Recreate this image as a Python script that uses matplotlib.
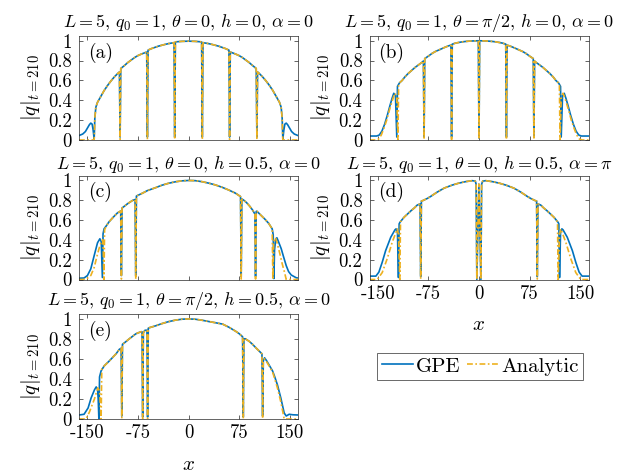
import numpy as np
import matplotlib
matplotlib.use("Agg")
import matplotlib.pyplot as plt

plt.rcParams['font.family'] = 'serif'
plt.rcParams['font.serif'] = ['cmr10', 'DejaVu Serif']
plt.rcParams['mathtext.fontset'] = 'cm'
plt.rcParams['axes.unicode_minus'] = False

# ---------------- data (x, |q|) ----------------
a_gpe = np.array([
    [-162.5, 0.045], [-157, 0.06], [-153, 0.085], [-150, 0.12], [-147, 0.155], [-145, 0.17],
    [-143, 0.16], [-141.5, 0.1], [-140, 0.01], [-139, 0.22], [-137.5, 0.33], [-135, 0.38],
    [-130, 0.44], [-125, 0.5], [-120, 0.55], [-115, 0.595], [-110, 0.635], [-105, 0.67],
    [-102.5, 0.685], [-101.5, 0.03], [-100.5, 0.72], [-95, 0.75], [-90, 0.78], [-85, 0.805],
    [-80, 0.83], [-75, 0.85], [-70, 0.865], [-65, 0.878], [-62, 0.885], [-61, 0.03], [-60, 0.905],
    [-55, 0.92], [-50, 0.932], [-45, 0.944], [-40, 0.953], [-35, 0.962], [-30, 0.97], [-25, 0.976],
    [-21.5, 0.98], [-20.5, 0.03], [-19.5, 0.988], [-10, 0.993], [0, 0.995], [10, 0.993],
    [19.5, 0.988], [20.5, 0.03], [21.5, 0.98], [25, 0.976], [30, 0.97], [35, 0.962], [40, 0.953],
    [45, 0.944], [50, 0.932], [55, 0.92], [60, 0.905], [61, 0.03], [62, 0.885], [65, 0.878],
    [70, 0.865], [75, 0.85], [80, 0.83], [85, 0.805], [90, 0.78], [95, 0.75], [100.5, 0.72],
    [101.5, 0.03], [102.5, 0.685], [105, 0.67], [110, 0.635], [115, 0.595], [120, 0.55],
    [125, 0.5], [130, 0.44], [135, 0.38], [137.5, 0.33], [139, 0.22], [140, 0.01], [141.5, 0.1],
    [143, 0.16], [145, 0.17], [147, 0.155], [150, 0.12], [153, 0.085], [157, 0.06], [162.5, 0.045]])
a_ana = np.array([
    [-162.5, 0.0], [-140, 0.0], [-139, 0.22], [-137.5, 0.33], [-135, 0.38],
    [-130, 0.44], [-125, 0.5], [-120, 0.55], [-115, 0.595], [-110, 0.635], [-105, 0.67],
    [-102.5, 0.685], [-101.5, 0.005], [-100.5, 0.72], [-95, 0.75], [-90, 0.78], [-85, 0.805],
    [-80, 0.83], [-75, 0.85], [-70, 0.865], [-65, 0.878], [-62, 0.885], [-61, 0.005], [-60, 0.905],
    [-55, 0.92], [-50, 0.932], [-45, 0.944], [-40, 0.953], [-35, 0.962], [-30, 0.97], [-25, 0.976],
    [-21.5, 0.98], [-20.5, 0.005], [-19.5, 0.988], [-10, 0.993], [0, 0.995], [10, 0.993],
    [19.5, 0.988], [20.5, 0.005], [21.5, 0.98], [25, 0.976], [30, 0.97], [35, 0.962], [40, 0.953],
    [45, 0.944], [50, 0.932], [55, 0.92], [60, 0.905], [61, 0.005], [62, 0.885], [65, 0.878],
    [70, 0.865], [75, 0.85], [80, 0.83], [85, 0.805], [90, 0.78], [95, 0.75], [100.5, 0.72],
    [101.5, 0.005], [102.5, 0.685], [105, 0.67], [110, 0.635], [115, 0.595], [120, 0.55],
    [125, 0.5], [130, 0.44], [135, 0.38], [137.5, 0.33], [139, 0.22], [140, 0.0], [162.5, 0.0]])

b_gpe = np.array([
    [-162.5, 0.04], [-152, 0.04], [-148, 0.05], [-144, 0.09], [-140, 0.16], [-136, 0.25],
    [-132, 0.35], [-129, 0.42], [-126.5, 0.47], [-124, 0.45], [-122, 0.03], [-121, 0.54],
    [-118, 0.575], [-114, 0.6], [-110, 0.635], [-105, 0.67], [-100, 0.7], [-95, 0.73],
    [-90, 0.755], [-85, 0.78], [-82.5, 0.795], [-81.5, 0.03], [-80.5, 0.82], [-75, 0.845],
    [-70, 0.87], [-65, 0.89], [-60, 0.905], [-55, 0.92], [-50, 0.935], [-45, 0.948],
    [-41.7, 0.955], [-40.7, 0.03], [-39.7, 0.965], [-35, 0.975], [-30, 0.982], [-25, 0.988],
    [-20, 0.992], [-15, 0.995], [-10, 0.997], [-1, 0.999], [0, 0.02], [1, 0.999], [10, 0.997],
    [15, 0.995], [20, 0.992], [25, 0.988], [30, 0.982], [35, 0.975], [39.7, 0.965], [40.7, 0.03],
    [41.7, 0.955], [45, 0.948], [50, 0.935], [55, 0.92], [60, 0.905], [65, 0.89], [70, 0.87],
    [75, 0.845], [80.5, 0.82], [81.5, 0.03], [82.5, 0.795], [85, 0.78], [90, 0.755], [95, 0.73],
    [100, 0.7], [105, 0.67], [110, 0.635], [114, 0.6], [118, 0.575], [121, 0.54], [122, 0.03],
    [124, 0.45], [126.5, 0.47], [129, 0.42], [132, 0.35], [136, 0.25], [140, 0.16], [144, 0.09],
    [148, 0.05], [152, 0.04], [162.5, 0.04]])
b_ana = np.array([
    [-162.5, 0.0], [-153, 0.0], [-149, 0.01], [-145, 0.05], [-141, 0.12], [-137, 0.2],
    [-133, 0.3], [-129, 0.39], [-126, 0.45], [-124.5, 0.47], [-122, 0.42], [-120.3, 0.0],
    [-119.3, 0.55], [-118, 0.575], [-114, 0.6], [-110, 0.635], [-105, 0.67], [-100, 0.7],
    [-95, 0.73], [-90, 0.755], [-85, 0.78], [-82.5, 0.795], [-81.5, 0.005], [-80.5, 0.82],
    [-75, 0.845], [-70, 0.87], [-65, 0.89], [-60, 0.905], [-55, 0.92], [-50, 0.935], [-45, 0.948],
    [-41.7, 0.955], [-40.7, 0.005], [-39.7, 0.965], [-35, 0.975], [-30, 0.982], [-25, 0.988],
    [-20, 0.992], [-15, 0.995], [-10, 0.997], [-1, 0.999], [0, 0.005], [1, 0.999], [10, 0.997],
    [15, 0.995], [20, 0.992], [25, 0.988], [30, 0.982], [35, 0.975], [39.7, 0.965], [40.7, 0.005],
    [41.7, 0.955], [45, 0.948], [50, 0.935], [55, 0.92], [60, 0.905], [65, 0.89], [70, 0.87],
    [75, 0.845], [80.5, 0.82], [81.5, 0.005], [82.5, 0.795], [85, 0.78], [90, 0.755], [95, 0.73],
    [100, 0.7], [105, 0.67], [110, 0.635], [114, 0.6], [118, 0.575], [119.3, 0.55], [120.3, 0.0],
    [122, 0.42], [124.5, 0.47], [126, 0.45], [129, 0.39], [133, 0.3], [137, 0.2], [141, 0.12],
    [145, 0.05], [149, 0.01], [153, 0.0], [162.5, 0.0]])

c_gpe = np.array([
    [-162.5, 0.013], [-155, 0.015], [-150, 0.04], [-145, 0.107], [-140, 0.24], [-135, 0.37],
    [-131.5, 0.41], [-129.5, 0.38], [-127.8, 0.02], [-126.8, 0.46], [-125.3, 0.51], [-122, 0.54],
    [-118, 0.58], [-112, 0.625], [-105.5, 0.67], [-100.6, 0.69], [-99.6, 0.04], [-98.6, 0.72],
    [-96.6, 0.73], [-90, 0.765], [-83.2, 0.795], [-79.3, 0.805], [-78.3, 0.04], [-77.3, 0.84],
    [-75.8, 0.845], [-68, 0.87], [-61, 0.895], [-48.6, 0.925], [-40, 0.948], [-30, 0.968],
    [-20, 0.983], [-10, 0.993], [0, 0.997], [10, 0.995], [20, 0.985], [30, 0.97], [40, 0.952],
    [50, 0.928], [60, 0.9], [70, 0.868], [77.2, 0.835], [78.2, 0.03], [79.2, 0.81], [81.7, 0.8],
    [86, 0.775], [90.6, 0.74], [95, 0.7], [98.5, 0.66], [99.5, 0.03], [100.5, 0.685],
    [101.5, 0.687], [107, 0.65], [113, 0.61], [119, 0.565], [124.2, 0.51], [125.7, 0.45],
    [126.7, 0.01], [127.7, 0.3], [129.5, 0.41], [131.2, 0.42], [133, 0.39], [137.6, 0.31],
    [141, 0.23], [145, 0.14], [148.5, 0.08], [152.5, 0.045], [160, 0.017], [162.5, 0.015]])
c_ana = np.array([
    [-162.5, 0.0], [-152.5, 0.0], [-145, 0.04], [-140, 0.12], [-136, 0.23], [-132.8, 0.31],
    [-129.5, 0.38], [-127.5, 0.4], [-126.5, 0.3], [-125.5, 0.0], [-124.5, 0.5], [-122, 0.54],
    [-118, 0.58], [-112, 0.625], [-105.5, 0.67], [-100.6, 0.69], [-99.6, 0.005], [-98.6, 0.72],
    [-96.6, 0.73], [-90, 0.765], [-83.2, 0.795], [-79.3, 0.805], [-78.3, 0.005], [-77.3, 0.84],
    [-75.8, 0.845], [-68, 0.87], [-61, 0.895], [-48.6, 0.925], [-40, 0.948], [-30, 0.968],
    [-20, 0.983], [-10, 0.993], [0, 0.997], [10, 0.995], [20, 0.985], [30, 0.97], [40, 0.952],
    [50, 0.928], [60, 0.9], [70, 0.868], [77.2, 0.835], [78.2, 0.005], [79.2, 0.81], [81.7, 0.8],
    [86, 0.775], [90.6, 0.74], [95, 0.7], [98.5, 0.66], [99.5, 0.005], [100.5, 0.685],
    [101.5, 0.687], [107, 0.65], [113, 0.61], [119, 0.565], [124.2, 0.51], [125.2, 0.0],
    [126.5, 0.38], [128, 0.41], [129.2, 0.42], [131, 0.38], [135.2, 0.27], [139, 0.16],
    [142.6, 0.07], [145, 0.0], [162.5, 0.0]])

d_gpe = np.array([
    [-162.5, 0.034], [-153, 0.034], [-148.6, 0.074], [-143.6, 0.174], [-138.6, 0.29],
    [-131, 0.425], [-124.7, 0.5], [-123, 0.51], [-121, 0.47], [-119.5, 0.02], [-118.5, 0.56],
    [-117.3, 0.576], [-111.3, 0.626], [-106, 0.66], [-101.3, 0.69], [-96, 0.72], [-91.5, 0.75],
    [-87.5, 0.76], [-86.5, 0.03], [-85.5, 0.79], [-83.5, 0.794], [-77, 0.815], [-71.5, 0.837],
    [-62, 0.88], [-51.7, 0.92], [-40, 0.95], [-30, 0.97], [-20, 0.985], [-10, 0.995],
    [-5.5, 0.99], [-4.3, 0.96], [-3.2, 0.0], [-0.2, 0.96], [2.8, 0.0], [3.9, 0.96], [5.5, 0.99],
    [10, 0.995], [20, 0.985], [30, 0.97], [40, 0.95], [51.7, 0.92], [62, 0.88], [71.5, 0.837],
    [77, 0.815], [83.5, 0.794], [85.5, 0.79], [86.5, 0.03], [87.5, 0.76], [91.5, 0.75],
    [96, 0.72], [101.3, 0.69], [106, 0.66], [111.3, 0.626], [117.3, 0.576], [118.5, 0.56],
    [119.5, 0.02], [121, 0.47], [123, 0.51], [124.7, 0.5], [131, 0.425], [138.6, 0.29],
    [143.6, 0.174], [148.6, 0.074], [153, 0.034], [162.5, 0.034]])
d_ana = np.array([
    [-162.5, 0.0], [-151, 0.0], [-143.6, 0.07], [-136.2, 0.21], [-128.8, 0.375],
    [-121.3, 0.51], [-119.5, 0.45], [-117.5, 0.0], [-116.5, 0.58], [-111.3, 0.626],
    [-106, 0.66], [-101.3, 0.69], [-96, 0.72], [-91.5, 0.75],
    [-87.5, 0.76], [-86.5, 0.005], [-85.5, 0.79], [-83.5, 0.794], [-77, 0.815], [-71.5, 0.837],
    [-62, 0.88], [-51.7, 0.92], [-40, 0.95], [-30, 0.97], [-20, 0.985], [-10, 0.995],
    [-5.5, 0.99], [-4.3, 0.96], [-3.2, 0.0], [-0.2, 0.96], [2.8, 0.0], [3.9, 0.96], [5.5, 0.99],
    [10, 0.995], [20, 0.985], [30, 0.97], [40, 0.95], [51.7, 0.92], [62, 0.88], [71.5, 0.837],
    [77, 0.815], [83.5, 0.794], [85.5, 0.79], [86.5, 0.005], [87.5, 0.76], [91.5, 0.75],
    [96, 0.72], [101.3, 0.69], [106, 0.66], [111.3, 0.626], [116.5, 0.58], [117.5, 0.0],
    [119.5, 0.45], [121.3, 0.51], [128.8, 0.375], [136.2, 0.21], [143.6, 0.07], [151, 0.0],
    [162.5, 0.0]])

e_gpe = np.array([
    [-162.5, 0.04], [-155, 0.047], [-149, 0.11], [-144.5, 0.21], [-139.6, 0.29], [-137, 0.32],
    [-135, 0.3], [-134, 0.2], [-133, 0.0], [-132, 0.42], [-129.7, 0.48], [-125, 0.53],
    [-117.4, 0.58], [-107.5, 0.65], [-102.6, 0.695], [-100, 0.705], [-99, 0.03], [-98, 0.745],
    [-95, 0.76], [-87.8, 0.8], [-78, 0.85], [-70.6, 0.87], [-69, 0.87], [-68, 0.02],
    [-67, 0.86], [-64.6, 0.885], [-61.7, 0.885], [-60.7, 0.02], [-59.7, 0.905], [-58.3, 0.91],
    [-48.4, 0.93], [-40, 0.95], [-30, 0.97], [-20, 0.985], [-10, 0.995], [0, 0.998],
    [10, 0.995], [20, 0.985], [30, 0.972], [40, 0.96], [50.7, 0.946], [60, 0.915], [70, 0.875],
    [75.4, 0.85], [80.3, 0.82], [81.3, 0.02], [82.3, 0.8], [84.3, 0.8], [90, 0.775],
    [95, 0.745], [100, 0.71], [106, 0.67], [109, 0.65], [110, 0.03], [111, 0.58], [112.9, 0.61],
    [116, 0.58], [124.7, 0.48], [128, 0.42], [132, 0.34], [137, 0.21], [142, 0.06], [145, 0.03],
    [149.4, 0.047], [155, 0.042], [162.5, 0.04]])
e_ana = np.array([
    [-162.5, 0.0], [-152, 0.0], [-147, 0.07], [-139.6, 0.2], [-134.6, 0.31], [-132, 0.28],
    [-129.7, 0.0], [-128.7, 0.5], [-125, 0.53],
    [-117.4, 0.58], [-107.5, 0.65], [-102.6, 0.695], [-100, 0.705], [-99, 0.005], [-98, 0.745],
    [-95, 0.76], [-87.8, 0.8], [-78, 0.85], [-70.6, 0.87], [-69, 0.87], [-68, 0.005],
    [-67, 0.86], [-64.6, 0.885], [-61.7, 0.885], [-60.7, 0.005], [-59.7, 0.905], [-58.3, 0.91],
    [-48.4, 0.93], [-40, 0.95], [-30, 0.97], [-20, 0.985], [-10, 0.995], [0, 0.998],
    [10, 0.995], [20, 0.985], [30, 0.972], [40, 0.96], [50.7, 0.946], [60, 0.915], [70, 0.875],
    [75.4, 0.85], [80.3, 0.82], [81.3, 0.005], [82.3, 0.8], [84.3, 0.8], [90, 0.775],
    [95, 0.745], [100, 0.71], [106, 0.67], [109, 0.65], [110, 0.005], [111, 0.58], [113, 0.6],
    [116, 0.57], [124.7, 0.47], [128, 0.4], [132, 0.31], [137, 0.17], [140, 0.07], [142, 0.0],
    [162.5, 0.0]])

titles = [r'$L=5$, $q_0=1$, $\theta=0$, $h=0$, $\alpha=0$',
          r'$L=5$, $q_0=1$, $\theta=\pi/2$, $h=0$, $\alpha=0$',
          r'$L=5$, $q_0=1$, $\theta=0$, $h=0.5$, $\alpha=0$',
          r'$L=5$, $q_0=1$, $\theta=0$, $h=0.5$, $\alpha=\pi$',
          r'$L=5$, $q_0=1$, $\theta=\pi/2$, $h=0.5$, $\alpha=0$']
panel_labels = ['(a)', '(b)', '(c)', '(d)', '(e)']
x_ticks = [-150, -75, 0, 75, 150]
x_ticklabels = ['-150', '-75', '0', '75', '150']
y_ticks = [0, 0.2, 0.4, 0.6, 0.8, 1]
y_ticklabels = ['0', '0.2', '0.4', '0.6', '0.8', '1']
series_names = ['GPE', 'Analytic']

gpe_data = [a_gpe, b_gpe, c_gpe, d_gpe, e_gpe]
ana_data = [a_ana, b_ana, c_ana, d_ana, e_ana]

# ---------------- layout ----------------
W, H = 635, 475
fig = plt.figure(figsize=(W / 100, H / 100), dpi=100)

def rect(left, top, w, h):
    return [left / W, 1 - (top + h) / H, w / W, h / H]

rects = [rect(79, 36, 219, 104), rect(369.5, 36, 219, 104),
         rect(79, 175.5, 219, 104), rect(369.5, 175.5, 219, 104),
         rect(79, 314, 219, 105)]
title_pads = [6.5, 6.5, 4.6, 4.6, 6.5]

BLUE = '#0072BD'
YEL = '#EDB120'
AXC = '#262626'
TFS = 13     # titles
KFS = 13.5   # tick labels
LFS = 15     # axis labels
show_xlabels = [False, False, False, True, True]

lines_for_legend = None
for i in range(5):
    ax = fig.add_axes(rects[i])
    g = gpe_data[i]
    an = ana_data[i]
    l1, = ax.plot(g[:, 0], g[:, 1], color=BLUE, lw=1.2)
    l2, = ax.plot(an[:, 0], an[:, 1], color=YEL, lw=1.2, linestyle=(0, (3.5, 1.5, 1, 1.5)))
    if lines_for_legend is None:
        lines_for_legend = [l1, l2]
    ax.set_xlim(-162.5, 162.5)
    ax.set_ylim(0, 1.047)
    ax.set_xticks(x_ticks)
    ax.set_yticks(y_ticks)
    ax.set_yticklabels(y_ticklabels)
    if show_xlabels[i]:
        ax.set_xticklabels(x_ticklabels)
        ax.set_xlabel(r'$x$', fontsize=LFS, labelpad=9.5)
    else:
        ax.set_xticklabels([])
    ax.tick_params(direction='in', top=True, right=True, length=3, width=0.5,
                   colors=AXC, labelcolor='black', labelsize=KFS)
    ax.tick_params(axis='y', pad=5)
    ax.tick_params(axis='x', pad=4)
    for s in ax.spines.values():
        s.set_linewidth(0.5)
        s.set_color(AXC)
    ax.set_title(titles[i], fontsize=TFS, pad=title_pads[i])
    ax.set_ylabel(r'$|q|_{t=210}$', fontsize=LFS, labelpad=4)
    ax.text(0.04, 0.935, panel_labels[i], transform=ax.transAxes, va='top', ha='left',
            fontsize=14)

leg = fig.legend(lines_for_legend, series_names, loc='center',
                 bbox_to_anchor=(480 / W, 1 - 366.5 / H), ncol=2, frameon=True,
                 fancybox=False, edgecolor=AXC, handlelength=1.5, handletextpad=0.15,
                 columnspacing=0.3, borderpad=0.2, fontsize=15, borderaxespad=0)
leg.get_frame().set_linewidth(0.6)

fig.savefig('out.png', dpi=100)
